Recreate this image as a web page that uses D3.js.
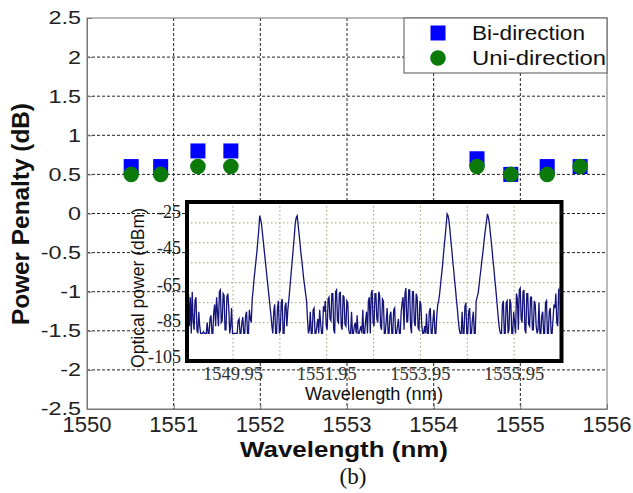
<!DOCTYPE html>
<html><head><meta charset="utf-8">
<script src="https://cdn.jsdelivr.net/npm/d3@7"></script>
<style>body{margin:0;background:#fff}svg{display:block}</style>
</head><body>
<svg id="chart" width="633" height="493"></svg>
<script>
// ---- main chart data ----
const wavelengths = [1550.51, 1550.85, 1551.28, 1551.66, 1554.50, 1554.89, 1555.31, 1555.69];
const biDirection = [0.6, 0.6, 0.8, 0.8, 0.7, 0.5, 0.6, 0.6];
const uniDirection = [0.5, 0.5, 0.6, 0.6, 0.6, 0.5, 0.5, 0.6];
const xTicks = [1550, 1551, 1552, 1553, 1554, 1555, 1556];
const yTicks = [2.5, 2, 1.5, 1, 0.5, 0, -0.5, -1, -1.5, -2, -2.5];
const seriesNames = ["Bi-direction", "Uni-direction"];

// ---- inset spectrum data (optical power in dBm, sampled every 0.02 nm from 1549.00 nm) ----
const spectrumStart = 1549.00;
const spectrumStep = 0.02;
const spectrumPower = [
  -70,-88,-72,-92,-69,-85,-90,-74,-72,-90,-92,-80,-88,-92,
  -92,-92,-91,-92,-92,-92,
  -86,-92,-92,-84,-82,-92,-92,-80,-76,-88,
  -72,-80,-88,-69,-68,-86,-85,-70,-71,-90,-90,-72,-70,-78,
  -92,-88,-78,-92,-92,-92,-92,-92,
  -92,-85,-84,-92,-92,-86,-83,-92,-92,-82,-80,-92,-92,-79,-84,-86,
  -73,-68,-62,-57,-52,-47,-41,-35,-27,-29,-32,-37,-42,-47,-52,-57,-62,-67,-72,-77,-82,-88,
  -92,-80,-76,-92,-92,-78,-74,-92,-90,-75,-73,-92,-92,-77,-75,-88,-79,-74,
  -68,-62,-56,-50,-44,-38,-31,-28,-27,-32,-37,-42,-48,-52,-57,-62,-66,-70,-74,-84,
  -92,-90,-80,-92,-92,-79,-78,-92,-92,-88,-84,-92,-79,-86,-92,-92,-77,-80,
  -74,-88,-90,-73,-72,-84,-85,-70,-70,-90,-92,-69,-68,-85,-86,-70,-69,-88,-90,-71,-72,-87,-88,-74,-75,-90,
  -92,-92,-80,-92,-92,-88,-86,-92,-82,-92,-92,-90,-88,-92,-79,-92,-92,-85,-80,-92,
  -74,-72,-92,-70,-68,-86,-88,-70,-70,-84,-86,-69,-71,-88,-90,-73,-74,-92,
  -92,-85,-78,-92,-92,-82,-80,-92,-92,-79,-78,-92,-92,-88,-84,-92,-92,-80,
  -75,-72,-90,-70,-67,-86,-85,-68,-68,-88,-92,-69,-69,-86,-88,-70,-72,-89,-90,-74,-76,-88,
  -92,-92,-88,-92,-81,-92,-92,-80,-78,-92,-92,-84,-79,-92,-92,-82,-76,-74,
  -70,-65,-60,-55,-49,-43,-38,-32,-26,-27,-30,-35,-41,-46,-52,-57,-63,-68,-74,-79,-85,-90,
  -92,-92,-80,-92,-92,-77,-75,-92,-92,-80,-78,-92,-92,-84,-80,-92,-92,-74,
  -72,-70,-66,-61,-57,-52,-48,-43,-38,-34,-30,-26,-28,-31,-36,-41,-46,-52,-57,-63,-68,-74,-80,-86,
  -90,-92,-92,-76,-74,-92,-92,-75,-74,-92,-90,-73,-76,-92,-92,-80,-86,-92,
  -70,-73,-90,-68,-67,-84,-86,-69,-68,-90,-92,-70,-70,-87,-88,-72,-72,-90,-90,-74,-76,-88,
  -92,-90,-75,-92,-92,-82,-80,-92,-92,-75,-74,-92,-92,-80,-78,-92,-92,-84,-76,-78,
  -70,-86,-88,-68,-67,-84,-85,-70
];
const insetXTicks = [1549.95, 1551.95, 1553.95, 1555.95];
const insetXGrid = [1549.95, 1550.95, 1551.95, 1552.95, 1553.95, 1554.95, 1555.95];
const insetYTicks = [-25, -45, -65, -85, -105];
const insetYGrid = [-31, -42, -53, -64, -75, -86];

const svg = d3.select("#chart");
svg.append("rect").attr("width", 633).attr("height", 493).attr("fill", "#fff");

// ---- main scales ----
const L = 87, R = 607, T = 18, B = 409;
const x = d3.scaleLinear().domain([1550, 1556]).range([L, R]);
const y = d3.scaleLinear().domain([-2.5, 2.5]).range([B, T]);

// grid
const grid = svg.append("g").attr("stroke", "#222").attr("stroke-width", 1).attr("stroke-dasharray", "3,2");
grid.selectAll("line.v").data(xTicks.slice(1, -1)).join("line")
  .attr("x1", d => x(d)).attr("x2", d => x(d)).attr("y1", T).attr("y2", B);
grid.selectAll("line.h").data(yTicks.slice(1, -1)).join("line")
  .attr("x1", L).attr("x2", R).attr("y1", d => y(d)).attr("y2", d => y(d));

// axes with inside ticks
const xAxis = svg.append("g").attr("transform", `translate(0,${B})`)
  .call(d3.axisBottom(x).tickValues(xTicks).tickSizeInner(-5).tickSizeOuter(0).tickFormat(""));
const yAxis = svg.append("g").attr("transform", `translate(${L},0)`)
  .call(d3.axisLeft(y).tickValues(yTicks).tickSizeInner(-5).tickSizeOuter(0).tickFormat(""));
[xAxis, yAxis].forEach(a => { a.selectAll("path,line").attr("stroke", "#777"); });
svg.append("rect").attr("x", L).attr("y", T).attr("width", R - L).attr("height", B - T)
  .attr("fill", "none").attr("stroke", "#777").attr("stroke-width", 1);

// tick labels
svg.append("g").selectAll("text").data(yTicks).join("text")
  .attr("transform", d => `translate(81,${y(d)}) scale(1.3,1)`)
  .attr("text-anchor", "end").attr("dominant-baseline", "central")
  .attr("font-family", "Arial, 'Liberation Sans', sans-serif").attr("font-size", 18).attr("fill", "#222")
  .text(d => d);
svg.append("g").selectAll("text").data(xTicks).join("text")
  .attr("x", d => x(d)).attr("y", 432).attr("text-anchor", "middle")
  .attr("font-family", "Arial, 'Liberation Sans', sans-serif").attr("font-size", 22).attr("fill", "#222")
  .text(d => d);

// axis titles
svg.append("text").attr("transform", "translate(21,214) rotate(-90)")
  .attr("text-anchor", "middle").attr("dominant-baseline", "central")
  .attr("font-family", "Arial, 'Liberation Sans', sans-serif").attr("font-weight", "bold").attr("font-size", 23)
  .attr("textLength", 222).attr("lengthAdjust", "spacingAndGlyphs").attr("fill", "#111")
  .text("Power Penalty (dB)");
svg.append("text").attr("x", 344).attr("y", 457).attr("text-anchor", "middle")
  .attr("font-family", "Arial, 'Liberation Sans', sans-serif").attr("font-weight", "bold").attr("font-size", 22)
  .attr("textLength", 208).attr("lengthAdjust", "spacingAndGlyphs").attr("fill", "#111")
  .text("Wavelength (nm)");
svg.append("text").attr("x", 353).attr("y", 484).attr("text-anchor", "middle")
  .attr("font-family", "'Liberation Serif', 'Times New Roman', serif").attr("font-size", 23).attr("fill", "#111")
  .text("(b)");

// ---- data markers ----
const blue = "#0000ff", green = "#0b7a0b";
svg.append("g").selectAll("rect").data(wavelengths.map((w, i) => [w, biDirection[i]])).join("rect")
  .attr("x", d => x(d[0]) - 7.5).attr("y", d => y(d[1]) - 7.5).attr("width", 15).attr("height", 15).attr("fill", blue);
svg.append("g").selectAll("circle").data(wavelengths.map((w, i) => [w, uniDirection[i]])).join("circle")
  .attr("cx", d => x(d[0])).attr("cy", d => y(d[1])).attr("r", 7.8).attr("fill", green);

// ---- legend ----
const lg = svg.append("g");
lg.append("rect").attr("x", 404).attr("y", T).attr("width", R - 404).attr("height", 55)
  .attr("fill", "#fff").attr("stroke", "#555").attr("stroke-width", 1);
lg.append("rect").attr("x", 438 - 7.5).attr("y", 33 - 7.5).attr("width", 15).attr("height", 15).attr("fill", blue);
lg.append("circle").attr("cx", 438).attr("cy", 58).attr("r", 7.8).attr("fill", green);
[[seriesNames[0], 40, 113], [seriesNames[1], 65, 134]].forEach(([t, yy, len]) => {
  lg.append("text").attr("x", 472).attr("y", yy)
    .attr("font-family", "Arial, 'Liberation Sans', sans-serif").attr("font-size", 20).attr("fill", "#111")
    .attr("textLength", len).attr("lengthAdjust", "spacingAndGlyphs").text(t);
});

// ---- inset ----
const iL = 187, iR = 561.5, iT = 202, iB = 361;
const ix = d3.scaleLinear().domain([1548.99, 1556.95]).range([188, 561]);
const iy = d3.scaleLinear().domain([-105, -25]).range([357, 212]);
const inset = svg.append("g");
inset.append("rect").attr("x", iL).attr("y", iT).attr("width", iR - iL).attr("height", iB - iT).attr("fill", "#fff");
const ig = inset.append("g").attr("stroke", "#a4a46a").attr("stroke-width", 1).attr("stroke-dasharray", "1.5,2.5");
ig.selectAll("line.v").data(insetXGrid).join("line")
  .attr("x1", d => ix(d)).attr("x2", d => ix(d)).attr("y1", iT).attr("y2", iB);
ig.selectAll("line.h").data(insetYGrid).join("line")
  .attr("x1", iL).attr("x2", iR).attr("y1", d => iy(d)).attr("y2", d => iy(d));

svg.append("clipPath").attr("id", "insetClip").append("rect")
  .attr("x", iL + 2).attr("y", iT + 2).attr("width", iR - iL - 4).attr("height", iB - iT - 4);
const line = d3.line().x((d, i) => ix(spectrumStart + i * spectrumStep)).y(d => iy(d));
inset.append("path").datum(spectrumPower).attr("d", line).attr("clip-path", "url(#insetClip)")
  .attr("fill", "none").attr("stroke", "#14147a").attr("stroke-width", 1.3).attr("stroke-linejoin", "miter");

inset.append("rect").attr("x", iL).attr("y", iT).attr("width", iR - iL).attr("height", iB - iT)
  .attr("fill", "none").attr("stroke", "#000").attr("stroke-width", 4);

inset.append("g").selectAll("text").data(insetYTicks).join("text")
  .attr("x", 181).attr("y", d => iy(d)).attr("text-anchor", "end").attr("dominant-baseline", "central")
  .attr("font-family", "'Liberation Serif', 'Times New Roman', serif").attr("font-size", 18).attr("fill", "#222")
  .text(d => d);
inset.append("g").selectAll("text").data(insetXTicks).join("text")
  .attr("x", d => ix(d)).attr("y", 380).attr("text-anchor", "middle")
  .attr("font-family", "'Liberation Serif', 'Times New Roman', serif").attr("font-size", 18.5).attr("fill", "#333")
  .text(d => d.toFixed(2));
inset.append("text").attr("x", 374).attr("y", 400).attr("text-anchor", "middle")
  .attr("font-family", "Arial, 'Liberation Sans', sans-serif").attr("font-size", 18).attr("fill", "#111")
  .attr("textLength", 138).attr("lengthAdjust", "spacingAndGlyphs")
  .text("Wavelength (nm)");
inset.append("text").attr("transform", "translate(138,288) rotate(-90)")
  .attr("text-anchor", "middle").attr("dominant-baseline", "central")
  .attr("font-family", "Arial, 'Liberation Sans', sans-serif").attr("font-size", 17.5).attr("fill", "#111")
  .attr("textLength", 160).attr("lengthAdjust", "spacingAndGlyphs")
  .text("Optical power (dBm)");
</script>
</body></html>
